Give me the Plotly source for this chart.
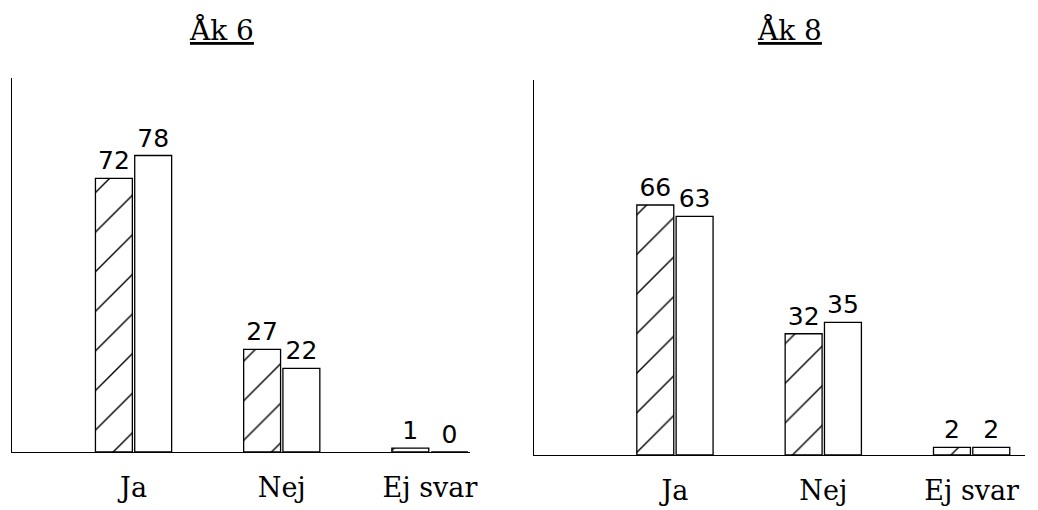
import plotly.graph_objects as go
from plotly.subplots import make_subplots

# Svarsalternativ och procentandelar
svar = ["Ja", "Nej", "Ej svar"]
ak6_streckad = [72, 27, 1]
ak6_vit = [78, 22, 0]
ak8_streckad = [66, 32, 2]
ak8_vit = [63, 35, 2]
rubriker = ["Åk 6", "Åk 8"]

siffer_font = dict(family="DejaVu Sans", size=25, color="black")
text_font = dict(family="DejaVu Serif", size=27, color="black")

fig = make_subplots(rows=1, cols=2)

hatch = dict(shape="/", fgcolor="#000000", fgopacity=1, bgcolor="white", size=28, solidity=0.05)
kant = dict(color="black", width=1.3)

for col, (streckad, vit) in enumerate([(ak6_streckad, ak6_vit), (ak8_streckad, ak8_vit)], start=1):
    fig.add_trace(go.Bar(x=svar, y=streckad, text=streckad, textposition="outside",
                         textfont=siffer_font, cliponaxis=False,
                         marker=dict(color="white", line=kant, pattern=hatch),
                         showlegend=False), row=1, col=col)
    fig.add_trace(go.Bar(x=svar, y=vit, text=vit, textposition="outside",
                         textfont=siffer_font, cliponaxis=False,
                         marker=dict(color="white", line=kant),
                         showlegend=False), row=1, col=col)

axel = dict(showline=True, linecolor="black", linewidth=1.3, showgrid=False,
            zeroline=False, ticks="")

# sidan har 8 px marginal uppe och till vänster
fig.update_layout(
    width=1030, height=502,
    margin=dict(l=0, r=0, t=0, b=0),
    paper_bgcolor="white", plot_bgcolor="white",
    barmode="group", bargap=0.47, bargroupgap=0.06,
    xaxis=dict(axel, domain=[0.0039, 0.4485], range=[-0.82, 2.27],
               tickfont=text_font, ticklabelstandoff=11, automargin=False),
    yaxis=dict(axel, domain=[0.1155, 0.8606], range=[0, 98.4], showticklabels=False),
    xaxis2=dict(axel, domain=[0.5107, 0.9874], range=[-0.95, 2.36],
                tickfont=text_font, ticklabelstandoff=11, automargin=False),
    yaxis2=dict(axel, domain=[0.1096, 0.8566], range=[0, 99], showticklabels=False),
)

fig.add_annotation(text="<u>" + rubriker[0] + "</u>", xref="x domain", yref="paper",
                   x=0.4585, y=0.956, yanchor="middle", showarrow=False,
                   font=dict(text_font, size=28))
fig.add_annotation(text="<u>" + rubriker[1] + "</u>", xref="x2 domain", yref="paper",
                   x=0.521, y=0.956, yanchor="middle", showarrow=False,
                   font=dict(text_font, size=28))

fig.write_html("out.html")
